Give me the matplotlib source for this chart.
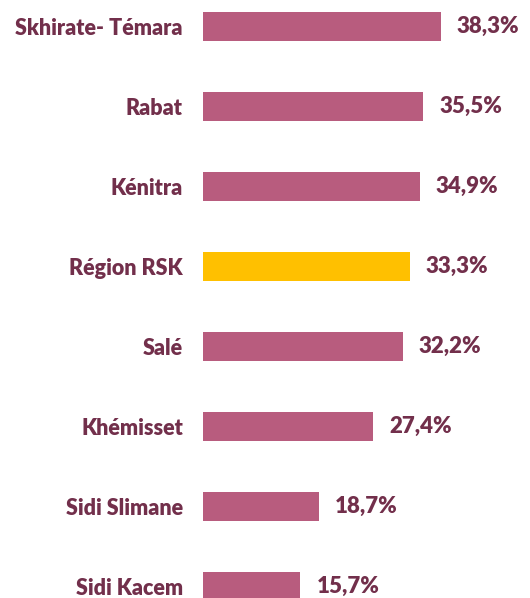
import matplotlib
matplotlib.use('Agg')
import matplotlib.pyplot as plt

regions = ['Skhirate- Témara', 'Rabat', 'Kénitra', 'Région RSK', 'Salé',
           'Khémisset', 'Sidi Slimane', 'Sidi Kacem']
values = [38.3, 35.5, 34.9, 33.3, 32.2, 27.4, 18.7, 15.7]
highlight = 'Région RSK'

bar_color = '#B85C7E'
highlight_color = '#FFC000'
text_color = '#722F4B'

plt.rcParams['font.family'] = ['Lato', 'DejaVu Sans']

fig = plt.figure(figsize=(5.30, 5.98), dpi=100)
ax = fig.add_axes([0.383, 0.0, 0.617, 1.0])

colors = [highlight_color if r == highlight else bar_color for r in regions]
pos = list(range(len(regions)))
ax.barh(pos, values, height=0.3625, color=colors)

for p, v in zip(pos, values):
    ax.annotate(f'{v:.1f}%'.replace('.', ','), (v, p), xytext=(11.5, 0),
                textcoords='offset points', va='center', ha='left',
                fontsize=16, fontweight='heavy', color=text_color)

ax.set_yticks(pos)
ax.set_yticklabels(regions, fontsize=15.5, fontweight='heavy', color=text_color)
ax.tick_params(axis='y', length=0, pad=14.4)
ax.set_xticks([])
ax.set_xlim(0, 52.7)
ax.set_ylim(7.144, -0.331)
for s in ax.spines.values():
    s.set_visible(False)

fig.savefig('out.png', dpi=100)
